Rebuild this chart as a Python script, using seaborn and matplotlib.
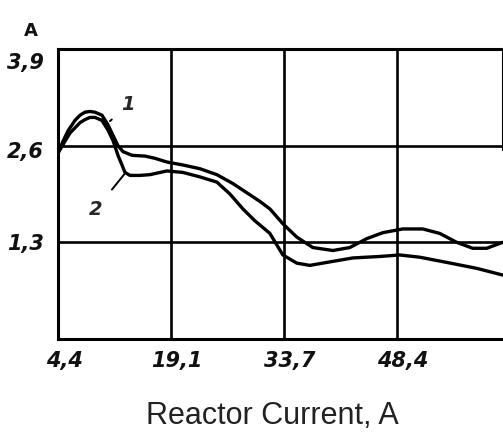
import matplotlib
matplotlib.use("Agg")
import matplotlib.pyplot as plt
from matplotlib.transforms import ScaledTranslation
import seaborn as sns
import pandas as pd

# ---- data ----
curve1_x = [4.40, 5.05, 5.70, 6.61, 7.26, 7.90, 8.55, 9.20, 10.11, 10.89, 11.54, 12.19,
            12.84, 14.01, 15.69, 16.99, 18.55, 20.63, 22.83, 25.04, 27.12, 29.32, 30.62,
            31.92, 33.61, 35.42, 37.50, 40.10, 42.30, 44.51, 46.59, 49.18, 51.78, 53.98,
            56.19, 58.27, 60.08, 62.16]
curve1_y = [2.50, 2.66, 2.80, 2.94, 3.01, 3.05, 3.06, 3.05, 3.01, 2.88, 2.74, 2.60,
            2.52, 2.47, 2.46, 2.43, 2.38, 2.34, 2.29, 2.21, 2.09, 1.94, 1.85,
            1.75, 1.55, 1.37, 1.23, 1.19, 1.23, 1.35, 1.43, 1.48, 1.48, 1.42,
            1.30, 1.22, 1.22, 1.30]
curve2_x = [4.40, 5.31, 5.96, 6.61, 7.26, 7.90, 8.55, 9.20, 10.11, 10.89, 11.54, 12.19,
            12.71, 13.10, 13.75, 15.04, 16.34, 18.55, 20.63, 22.83, 25.04, 26.73, 28.41,
            29.97, 31.01, 31.92, 33.61, 35.42, 37.11, 39.32, 42.69, 46.20, 48.79, 51.39,
            54.89, 58.79, 62.16]
curve2_y = [2.50, 2.66, 2.77, 2.84, 2.91, 2.95, 2.98, 2.98, 2.94, 2.81, 2.67, 2.47,
            2.34, 2.24, 2.20, 2.20, 2.21, 2.26, 2.24, 2.18, 2.11, 1.95, 1.75,
            1.59, 1.50, 1.42, 1.13, 1.02, 0.99, 1.03, 1.09, 1.11, 1.13, 1.10,
            1.03, 0.95, 0.86]
x_ticks = [4.4, 19.1, 33.7, 48.4]
x_tick_labels = ["4,4", "19,1", "33,7", "48,4"]
y_ticks = [1.3, 2.6, 3.9]
y_tick_labels = ["1,3", "2,6", "3,9"]
curve_labels = ["1", "2"]
x_title = "Reactor Current, A"
y_title = "A"

df = pd.concat([
    pd.DataFrame({"x": curve1_x, "y": curve1_y, "curve": curve_labels[0]}),
    pd.DataFrame({"x": curve2_x, "y": curve2_y, "curve": curve_labels[1]}),
])

sns.set_style("white")
fig = plt.figure(figsize=(5.03, 4.33), dpi=100)
ax = fig.add_axes([58 / 503, 94 / 433, 445 / 503, 290 / 433])

sns.lineplot(data=df, x="x", y="y", units="curve", estimator=None, sort=False,
             color="black", linewidth=2.4, legend=False, ax=ax, zorder=3)
for ln in ax.get_lines():
    ln.set_solid_joinstyle("round")
    ln.set_solid_capstyle("round")

ax.set_xlim(4.4, 62.2)
ax.set_ylim(0, 3.9)

# grid lines
for yv in y_ticks:
    ax.axhline(yv, color="black", linewidth=1.9, zorder=2)
for xv in x_ticks[1:]:
    ax.axvline(xv, color="black", linewidth=1.9, zorder=2)

for side in ["left", "bottom", "top", "right"]:
    ax.spines[side].set_color("black")
    ax.spines[side].set_linewidth(2.2)
ax.spines["right"].set_bounds(2.55, 3.9)

ax.set_xticks(x_ticks)
ax.set_xticklabels(x_tick_labels)
ax.set_yticks(y_ticks)
ax.set_yticklabels(y_tick_labels)
ax.tick_params(axis="both", length=0, labelsize=15, colors="#111111")
ax.tick_params(axis="x", pad=9)
ax.tick_params(axis="y", pad=10)
for lab in ax.get_xticklabels() + ax.get_yticklabels():
    lab.set_fontweight("bold")
    lab.set_fontstyle("italic")
for lab in ax.get_xticklabels():
    lab.set_transform(lab.get_transform() + ScaledTranslation(6 / 100, 0, fig.dpi_scale_trans))
top_lab = ax.get_yticklabels()[-1]
top_lab.set_transform(top_lab.get_transform() + ScaledTranslation(0, -12 / 100, fig.dpi_scale_trans))
mid_lab = ax.get_yticklabels()[1]
mid_lab.set_transform(mid_lab.get_transform() + ScaledTranslation(0, -4 / 100, fig.dpi_scale_trans))

ax.set_xlabel("")
ax.set_ylabel("")

# curve labels with leader lines
ax.annotate(curve_labels[0], xy=(11.15, 2.93), xytext=(13.5, 3.15),
            fontsize=14, fontweight="bold", fontstyle="italic", ha="center", va="center",
            arrowprops=dict(arrowstyle="-", color="black", lw=1.4, shrinkA=6, shrinkB=0))
ax.annotate(curve_labels[1], xy=(13.2, 2.24), xytext=(9.3, 1.74),
            fontsize=14, fontweight="bold", fontstyle="italic", ha="center", va="center",
            arrowprops=dict(arrowstyle="-", color="black", lw=1.4, shrinkA=7, shrinkB=0))

fig.text(31 / 503, 1 - 31 / 433, y_title, fontsize=13, fontweight="bold",
         ha="center", va="center", color="#111111")
fig.text(272 / 503, 1 - 416 / 433, x_title, fontsize=22, family="Liberation Sans",
         ha="center", va="center", color="#222222")

fig.savefig("out.png", dpi=100)
